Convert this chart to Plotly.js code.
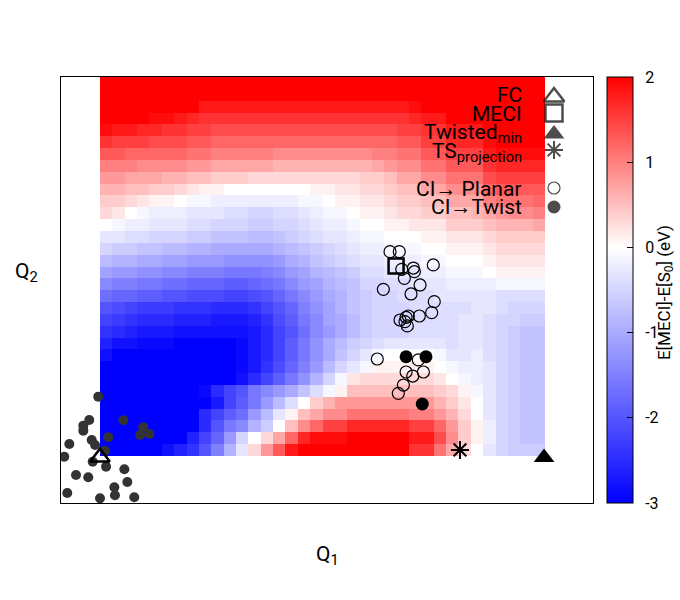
<!DOCTYPE html>
<html>
<head>
<meta charset="utf-8">
<script src="https://cdn.plot.ly/plotly-3.0.1.min.js"></script>
<style>html,body{margin:0;padding:0;background:#fff}#chart{width:680px;height:600px}</style>
</head>
<body>
<div id="chart"></div>
<script>
// ---- grid coordinates (cell centres, arbitrary Q units) ----
var gridQ1 = [0,1,2,3,4,5,6,7,8,9,10,11,12,13,14,15,16,17,18,19,20,21,22,23,24,25,26,27,28,29,30,31,32,33,34,35];
var gridQ2 = [31,30,29,28,27,26,25,24,23,22,21,20,19,18,17,16,15,14,13,12,11,10,9,8,7,6,5,4,3,2,1,0];

// ---- E[MECI]-E[S0] in tenths of eV, rows from top (high Q2) to bottom ----
var energyTenths = [
[22,22,22,22,22,22,22,22,22,22,22,22,22,22,22,22,22,22,22,22,22,22,22,22,22,22,22,22,22,22,22,22,22,22,22,22],
[22,22,22,22,22,22,22,22,22,22,22,22,21,21,21,21,21,21,21,21,21,21,21,21,21,22,22,22,22,22,22,22,22,22,22,22],
[22,22,22,21,21,21,21,20,18,18,18,18,18,18,18,18,18,18,18,18,18,18,18,18,18,19,20,20,21,21,21,22,22,22,22,22],
[21,21,21,20,19,19,18,17,16,16,16,16,16,16,16,16,16,16,16,16,16,16,16,16,16,17,18,18,20,20,20,21,21,21,21,21],
[19,18,18,17,17,16,16,15,15,14,14,14,14,14,14,14,14,14,14,14,14,14,14,14,15,15,16,16,18,18,18,20,21,21,21,21],
[16,15,15,15,14,14,14,13,13,12,12,12,12,12,12,12,12,12,12,12,12,12,12,12,13,13,15,15,17,17,17,19,20,20,20,20],
[13,13,12,12,12,12,12,11,11,10,10,10,10,10,9,9,9,9,9,9,9,9,10,10,11,11,13,13,15,15,15,18,19,19,19,19],
[10,10,10,9,9,9,9,8,8,7,7,7,7,7,6,6,6,6,6,6,6,6,7,8,9,9,11,11,13,13,13,16,17,17,17,17],
[8,8,7,7,7,6,6,5,5,4,4,4,3,3,3,3,3,3,3,3,3,4,4,5,7,7,9,9,11,11,11,14,15,15,15,15],
[6,6,5,5,4,4,3,2,1,1,0,0,0,0,0,0,0,1,1,2,2,3,3,4,5,5,7,7,9,9,9,12,13,13,13,13],
[4,4,3,2,1,1,0,-1,-1,-2,-2,-2,-2,-2,-2,-2,-1,-1,0,1,1,2,2,3,4,4,5,5,7,7,7,10,11,11,11,12],
[3,2,0,-1,-2,-2,-2,-3,-3,-3,-4,-4,-5,-5,-4,-4,-3,-2,-1,-1,0,1,1,2,3,3,4,4,5,5,6,7,8,9,9,10],
[0,-1,-2,-2,-3,-3,-3,-4,-4,-5,-5,-5,-6,-6,-5,-5,-4,-3,-2,-2,-1,0,0,1,1,2,2,2,4,4,4,5,6,6,6,7],
[-3,-3,-4,-4,-5,-5,-5,-6,-6,-7,-7,-7,-8,-8,-7,-6,-5,-4,-3,-3,-2,-1,-1,0,0,0,1,1,2,2,2,3,4,4,4,4],
[-5,-6,-6,-7,-7,-8,-8,-9,-9,-10,-10,-10,-10,-10,-9,-8,-7,-6,-5,-4,-3,-2,-2,-1,-1,-1,0,0,1,1,1,2,3,3,3,3],
[-8,-9,-9,-10,-10,-11,-11,-12,-12,-12,-13,-13,-13,-13,-12,-10,-9,-7,-6,-5,-4,-3,-3,-2,-2,-2,-1,-1,0,0,0,1,2,2,2,2],
[-11,-12,-12,-13,-13,-14,-14,-15,-15,-15,-16,-16,-16,-15,-14,-12,-11,-9,-8,-7,-6,-4,-4,-3,-3,-3,-2,-2,-1,-1,-1,0,1,1,1,1],
[-14,-15,-15,-16,-16,-17,-17,-18,-18,-18,-19,-19,-18,-17,-16,-14,-12,-11,-9,-8,-7,-5,-5,-4,-4,-3,-3,-3,-2,-2,-2,-2,-1,-1,-1,-1],
[-17,-18,-18,-19,-19,-20,-20,-21,-21,-21,-22,-22,-21,-20,-18,-16,-14,-12,-10,-9,-7,-6,-5,-5,-4,-4,-4,-3,-3,-3,-3,-3,-4,-4,-4,-4],
[-20,-21,-22,-23,-23,-23,-24,-24,-24,-25,-25,-25,-24,-22,-20,-18,-15,-13,-11,-9,-7,-6,-5,-5,-5,-4,-4,-4,-4,-4,-3,-3,-4,-5,-5,-5],
[-22,-23,-24,-25,-25,-25,-26,-26,-26,-27,-27,-27,-26,-24,-21,-19,-16,-14,-11,-10,-8,-6,-5,-5,-5,-4,-4,-4,-4,-3,-3,-4,-5,-5,-6,-6],
[-24,-25,-26,-27,-27,-27,-28,-28,-28,-28,-28,-28,-27,-25,-22,-20,-17,-14,-12,-10,-8,-6,-5,-5,-5,-4,-4,-4,-4,-3,-3,-4,-5,-6,-7,-7],
[-26,-28,-28,-29,-29,-29,-30,-30,-30,-30,-30,-29,-27,-25,-22,-19,-16,-13,-10,-8,-6,-5,-4,-3,-3,-3,-3,-3,-4,-3,-3,-4,-5,-6,-7,-7],
[-28,-30,-30,-30,-30,-30,-30,-30,-30,-30,-30,-29,-27,-25,-22,-19,-16,-13,-10,-7,-5,-3,-1,0,0,0,0,-1,-3,-3,-2,-4,-5,-6,-7,-7],
[-30,-30,-30,-30,-30,-30,-30,-30,-30,-30,-30,-29,-27,-24,-21,-18,-15,-12,-8,-5,-3,-1,1,1,1,1,1,0,-1,-2,-2,-3,-5,-6,-7,-7],
[-30,-30,-30,-30,-30,-30,-30,-30,-30,-30,-30,-28,-25,-22,-19,-16,-13,-9,-5,-1,2,3,3,3,3,3,3,2,0,-1,-2,-3,-5,-6,-7,-7],
[-30,-30,-30,-30,-30,-30,-30,-30,-29,-25,-22,-20,-16,-14,-12,-10,-7,-4,-1,1,5,5,5,5,5,5,5,4,3,1,-1,-3,-5,-6,-7,-7],
[-30,-30,-30,-30,-30,-30,-30,-30,-30,-27,-22,-19,-16,-12,-8,-4,0,4,6,8,8,8,8,8,8,8,8,6,4,2,0,-3,-5,-6,-7,-7],
[-30,-30,-30,-30,-30,-30,-30,-30,-25,-22,-19,-17,-12,-8,-3,1,5,7,9,9,11,11,11,11,11,10,10,8,6,3,0,-3,-5,-6,-7,-7],
[-30,-30,-30,-30,-30,-30,-30,-30,-25,-20,-16,-14,-9,-6,0,5,9,12,15,15,17,17,17,17,17,15,15,12,8,4,1,-2,-5,-6,-7,-7],
[-30,-30,-30,-30,-30,-30,-30,-26,-22,-18,-12,-5,0,3,7,12,17,19,19,19,21,21,21,21,21,18,18,14,9,4,1,-2,-5,-6,-7,-7],
[-30,-30,-30,-30,-30,-28,-26,-24,-20,-15,-9,-3,3,8,13,18,22,22,22,22,22,22,22,22,20,16,16,11,7,3,0,-3,-5,-6,-6,-6]
];

// ---- sampled ground-state geometries (grey dots) ----
var sampleQ1 = [-0.64,-1.37,-1.85,-1.85,1.39,3.00,2.74,3.49,0.17,-1.17,-0.90,-2.98,-0.10,-1.09,-0.01,-3.39,1.47,-2.44,-1.45,1.71,0.66,0.71,-3.15,-0.50,2.27];
var sampleQ2 = [4.51,2.54,2.06,1.64,2.51,1.92,1.27,1.36,1.08,0.85,0.43,0.51,-0.05,-0.98,-1.40,-0.56,-1.62,-2.10,-2.30,-2.70,-3.14,-3.82,-3.62,-4.07,-3.99];

// ---- CI -> Planar (open circles) ----
var planarQ1 = [22.96,23.71,26.46,24.85,23.91,24.93,24.12,25.39,22.42,24.66,26.54,26.33,25.33,23.77,24.26,24.44,24.17,24.36,21.93,25.25,24.26,24.80,25.66,24.04,23.63];
var planarQ2 = [16.75,16.75,15.63,15.37,15.26,15.06,14.50,13.94,13.57,13.18,12.53,11.60,11.32,10.98,11.21,11.32,10.84,10.48,7.69,7.61,6.59,6.25,6.59,5.49,4.79];

// ---- CI -> Twist (filled circles) ----
var twistQ1 = [24.26,25.87,25.57];
var twistQ2 = [7.88,7.88,3.89];

// ---- special geometries ----
var fcQ1 = [-0.5], fcQ2 = [-0.6];
var meciQ1 = [23.45], meciQ2 = [15.54];
var tsQ1 = [28.62], tsQ2 = [0.01];
var twMinQ1 = [35.42], twMinQ2 = [-0.62];

// ---- legend / colour bar text ----
var legendLabels = ['FC','MECI','Twisted<sub>min</sub>','TS<sub>projection</sub>','CI\u2192 Planar','CI\u2192Twist'];
var cbTickVals = [-3,-2,-1,0,1,2];
var cbTickText = ['\u00a0\u00a0-3','\u00a0\u00a0-2','\u00a0\u00a0-1','\u00a0\u00a00','\u00a0\u00a01','\u00a0\u00a02'];
var cbTitle = 'E[MECI]-E[S<sub>0</sub>] (eV)';

var zGrid = energyTenths.map(function(r){ return r.map(function(v){ return v/10; }); });

var FONT = 'Roboto, "Liberation Sans", Arial, sans-serif';

var traces = [
  {
    type: 'heatmap', x: gridQ1, y: gridQ2, z: zGrid,
    zmin: -3, zmax: 2, zsmooth: false,
    colorscale: [[0,'rgb(0,0,255)'],[0.6,'rgb(255,255,255)'],[1,'rgb(255,0,0)']],
    hoverinfo: 'skip',
    colorbar: {
      x: 1.0263, xanchor: 'left', xpad: 0,
      y: 0.5, yanchor: 'middle', len: 1, lenmode: 'fraction', ypad: 0,
      thickness: 26, thicknessmode: 'pixels',
      outlinewidth: 1, outlinecolor: '#000', borderwidth: 0,
      tickmode: 'array', tickvals: cbTickVals, ticktext: cbTickText,
      ticks: 'inside', ticklen: 6, tickcolor: '#000', tickwidth: 1,
      tickfont: {family: FONT, size: 16, color: '#000'}
    }
  },
  {type:'scatter', mode:'markers', x: sampleQ1, y: sampleQ2, hoverinfo:'skip',
   marker:{symbol:'circle', size:10, color:'#333333', line:{width:0}}},
  {type:'scatter', mode:'markers', x: planarQ1, y: planarQ2, hoverinfo:'skip',
   marker:{symbol:'circle-open', size:12, color:'#000', line:{width:1.2, color:'#000'}}},
  {type:'scatter', mode:'markers', x: twistQ1, y: twistQ2, hoverinfo:'skip',
   marker:{symbol:'circle', size:13, color:'#000'}},
  {type:'scatter', mode:'markers', x: fcQ1, y: fcQ2, hoverinfo:'skip',
   marker:{symbol:'triangle-up-open', size:17, color:'#000', line:{width:2.5, color:'#000'}}},
  {type:'scatter', mode:'markers', x: meciQ1, y: meciQ2, hoverinfo:'skip',
   marker:{symbol:'square-open', size:15, color:'#000', line:{width:2.5, color:'#000'}}},
  {type:'scatter', mode:'markers', x: tsQ1, y: tsQ2, hoverinfo:'skip',
   marker:{symbol:'asterisk-open', size:15, color:'#000', line:{width:2, color:'#000'}}},
  {type:'scatter', mode:'markers', x: twMinQ1, y: twMinQ2, hoverinfo:'skip', cliponaxis:false,
   marker:{symbol:'triangle-up', size:18, color:'#000'}},
  // legend key symbols on an overlay axis (paper-like 0..1)
  {type:'scatter', mode:'markers', xaxis:'x2', yaxis:'y2', cliponaxis:false, hoverinfo:'skip',
   x:[0.9267,0.9267,0.9267,0.9267,0.9267,0.9267],
   y:[0.9530,0.9155,0.8660,0.8286,0.7394,0.6948],
   marker:{
     symbol:['triangle-up-open','square-open','triangle-up','asterisk-open','circle-open','circle'],
     size:[18,17,18,15,12,13],
     color:'#000',
     line:{width:[2.5,2.5,0,2,1.2,0], color:'#000'}
   }}
];

var legendY = [0.9566,0.9131,0.8685,0.8216,0.7371,0.6948];
var annotations = legendLabels.map(function(t,i){
  return {text:t, xref:'paper', yref:'paper', x:0.8703, y:legendY[i], xanchor:'right', yanchor:'middle',
          showarrow:false, font:{family:FONT, size:21, color:'#000'}};
});
annotations.push({text:'Q<sub>1</sub>', xref:'paper', yref:'paper', x:0.5, y:-0.124, xanchor:'center', yanchor:'middle',
                  showarrow:false, font:{family:FONT, size:21, color:'#000'}});
annotations.push({text:'Q<sub>2</sub>', xref:'paper', yref:'paper', x:-0.064, y:0.542, xanchor:'center', yanchor:'middle',
                  showarrow:false, font:{family:FONT, size:21, color:'#000'}});
annotations.push({text:cbTitle, xref:'paper', yref:'paper', x:1.1353, y:0.495, xanchor:'center', yanchor:'middle',
                  textangle:-90, showarrow:false, font:{family:FONT, size:17, color:'#000'}});

// small tick dashes on the left edge of the colour bar
var cbDashVals = [-2,-1,0,1];
var shapes = cbDashVals.map(function(v){
  var yp = (v + 3) / 5;
  return {type:'line', xref:'paper', yref:'paper', x0:1.0263, x1:1.0376, y0:yp, y1:yp,
          line:{color:'#000', width:1}, layer:'above'};
});

var layout = {
  width: 680, height: 600,
  margin: {l:61, r:87, t:77, b:97, pad:0, autoexpand:false},
  paper_bgcolor:'#fff', plot_bgcolor:'#fff',
  showlegend: false,
  font: {family: FONT, color:'#000'},
  xaxis: {range:[-3.655, 39.38], showgrid:false, zeroline:false, showticklabels:false, ticks:'',
          showline:true, mirror:true, linecolor:'#000', linewidth:1, fixedrange:true},
  yaxis: {range:[-4.47, 31.5], showgrid:false, zeroline:false, showticklabels:false, ticks:'',
          showline:true, mirror:true, linecolor:'#000', linewidth:1, fixedrange:true},
  xaxis2: {range:[0,1], overlaying:'x', visible:false, fixedrange:true},
  yaxis2: {range:[0,1], overlaying:'y', visible:false, fixedrange:true},
  annotations: annotations,
  shapes: shapes
};

Plotly.newPlot('chart', traces, layout, {displayModeBar:false, staticPlot:true});
</script>
</body>
</html>
